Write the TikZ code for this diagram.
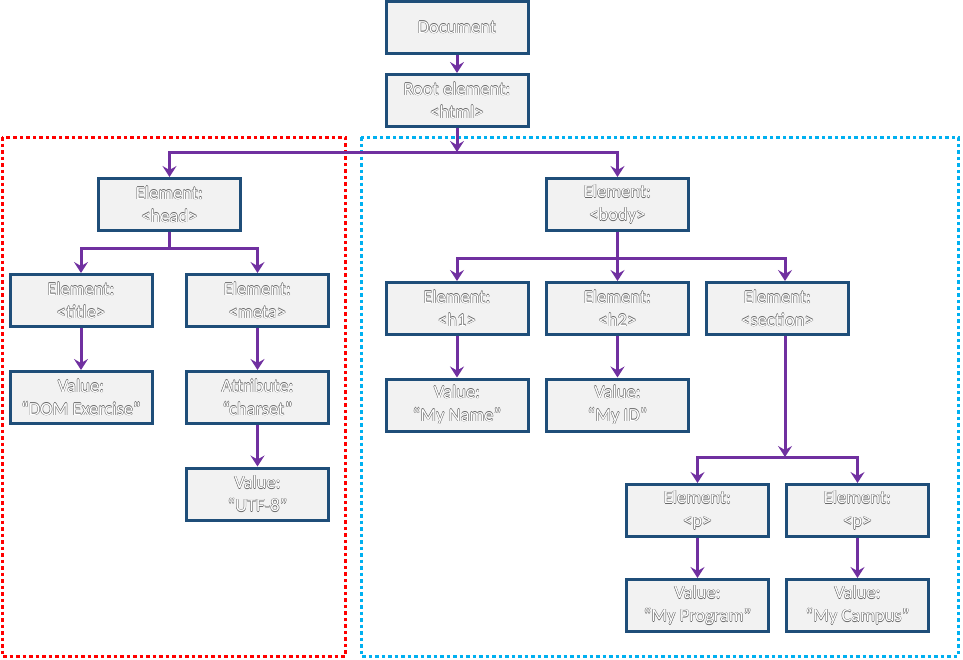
\documentclass[tikz,border=0pt]{standalone}
\usepackage{fontspec}
\setmainfont{Carlito}
\usetikzlibrary{arrows.meta}
\definecolor{boxblue}{HTML}{1F4E79}
\definecolor{boxfill}{HTML}{F2F2F2}
\definecolor{arrpurple}{HTML}{7030A0}
\definecolor{dotred}{HTML}{FF0000}
\definecolor{dotblue}{HTML}{00B0F0}
\newcommand{\outl}[1]{{\color{black!60}\rlap{\hspace{0.45pt}#1}\rlap{\hspace{-0.45pt}#1}\rlap{\raisebox{0.45pt}{#1}}\rlap{\raisebox{-0.45pt}{#1}}}{\color{white}#1}}
\newcommand{\lbl}[2]{\outl{#1}\\\outl{#2}}
\begin{document}
\begin{tikzpicture}[x=1pt,y=-1pt,
  box/.style={draw=boxblue, line width=3pt, fill=boxfill, minimum width=142pt, minimum height=52pt, align=center, inner sep=0pt, font=\fontsize{18.5}{23}\selectfont},
  conn/.style={draw=arrpurple, line width=3pt},
  arr/.style={conn, -{Stealth[length=11pt,width=14pt,inset=4pt]}},
  reddot/.style={draw=dotred, line width=3pt, dash pattern=on 3.5pt off 3pt},
  bluedot/.style={draw=dotblue, line width=3pt, dash pattern=on 3.5pt off 3pt}]
\useasboundingbox (0,0) rectangle (963,659);
\draw[reddot] (2,137) rectangle (345,656);
\draw[bluedot] (361,137) rectangle (958,656);

\node[box] (doc) at (457,27.5) {\outl{Document}};
\node[box] (root) at (457,100.5) {\lbl{Root element:}{<html>}};
\node[box] (head) at (169.5,204.5) {\lbl{Element:}{<head>}};
\node[box] (body) at (617.5,204.5) {\lbl{Element:}{<body>}};
\node[box] (title) at (81,300.5) {\lbl{Element:}{<title>}};
\node[box] (meta) at (257.5,300.5) {\lbl{Element:}{<meta>}};
\node[box] (titlev) at (81,397.5) {\lbl{Value:}{“DOM Exercise”}};
\node[box] (metaattr) at (257.5,397.5) {\lbl{Attribute:}{“charset”}};
\node[box] (metav) at (257.5,494) {\lbl{Value:}{“UTF-8”}};
\node[box] (h1) at (457,308.5) {\lbl{Element:}{<h1>}};
\node[box] (h2) at (617.5,308.5) {\lbl{Element:}{<h2>}};
\node[box] (section) at (777.5,308.5) {\lbl{Element:}{<section>}};
\node[box] (h1v) at (457,405) {\lbl{Value:}{“My Name”}};
\node[box] (h2v) at (617.5,405) {\lbl{Value:}{“My ID”}};
\node[box] (p1) at (697.5,510.5) {\lbl{Element:}{<p>}};
\node[box] (p2) at (857.5,510.5) {\lbl{Element:}{<p>}};
\node[box] (p1v) at (697.5,605.5) {\lbl{Value:}{“My Program”}};
\node[box] (p2v) at (857.5,605.5) {\lbl{Value:}{“My Campus”}};

\coordinate (j0) at (457,152);
\coordinate (j1) at (169.5,248);
\coordinate (j2) at (617.5,258);
\coordinate (j3) at (785,457);

\draw[arr] (doc) -- (root);
\draw[arr] (root) -- (j0);
\draw[arr] (j0) -| (head.north);
\draw[arr] (j0) -| (body.north);
\draw[conn] (head) -- (j1);
\draw[arr] (j1) -| (title.north);
\draw[arr] (j1) -| (meta.north);
\draw[arr] (title) -- (titlev);
\draw[arr] (meta) -- (metaattr);
\draw[arr] (metaattr) -- (metav);
\draw[conn] (body) -- (j2);
\draw[arr] (j2) -| (h1.north);
\draw[arr] (j2) -- (h2.north);
\draw[arr] (j2) -| ([xshift=7.5pt]section.north);
\draw[arr] (h1) -- (h1v);
\draw[arr] (h2) -- (h2v);
\draw[arr] ([xshift=7.5pt]section.south) -- (j3);
\draw[arr] (j3) -| (p1.north);
\draw[arr] (j3) -| (p2.north);
\draw[arr] (p1) -- (p1v);
\draw[arr] (p2) -- (p2v);
\end{tikzpicture}
\end{document}
